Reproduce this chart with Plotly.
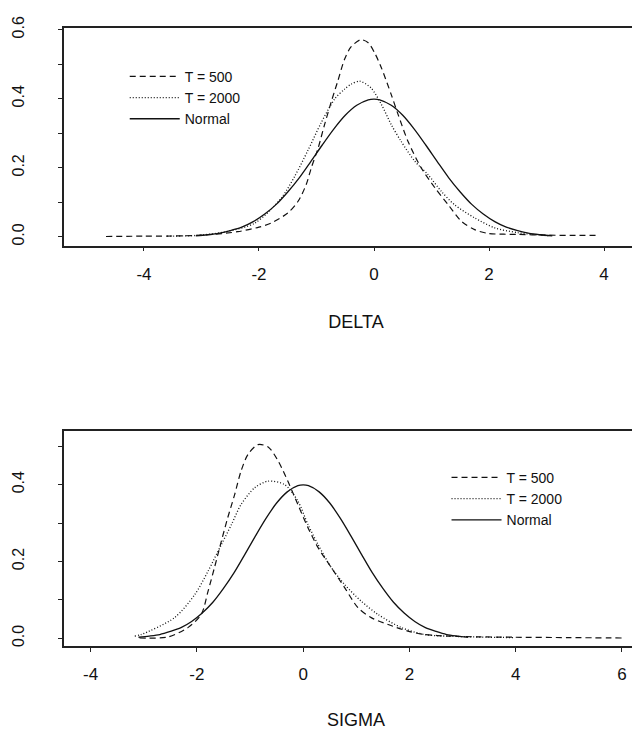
import plotly.graph_objects as go

# ---------------- DATA ----------------
# Normal density curve (same in both panels)
normal_x = [-3.1, -2.9, -2.7, -2.5, -2.3, -2.1, -1.9, -1.7, -1.5, -1.3, -1.1, -0.9, -0.7, -0.5, -0.3, -0.1,
            0.0, 0.1, 0.3, 0.5, 0.7, 0.9, 1.1, 1.3, 1.5, 1.7, 1.9, 2.1, 2.3, 2.5, 2.7, 2.9, 3.1]
normal_y = [0.003, 0.006, 0.010, 0.018, 0.028, 0.044, 0.066, 0.094, 0.130, 0.171, 0.218, 0.266, 0.312, 0.352, 0.381, 0.397,
            0.399, 0.397, 0.381, 0.352, 0.312, 0.266, 0.218, 0.171, 0.130, 0.094, 0.066, 0.044, 0.028, 0.018, 0.010, 0.006, 0.003]

# DELTA panel
delta_t500_x = [-4.66, -4.0, -3.3, -2.8, -2.37, -2.0, -1.79, -1.5, -1.32, -1.18, -1.09, -0.97, -0.86, -0.74, -0.63, -0.51,
                -0.40, -0.23, -0.10, 0.02, 0.13, 0.30, 0.42, 0.59, 0.82, 1.06, 1.29, 1.52, 1.75, 1.98, 2.5, 3.0, 3.5, 3.86]
delta_t500_y = [0.001, 0.002, 0.003, 0.007, 0.015, 0.028, 0.040, 0.069, 0.103, 0.151, 0.200, 0.258, 0.325, 0.393, 0.451, 0.515,
                0.550, 0.571, 0.562, 0.530, 0.489, 0.412, 0.354, 0.277, 0.200, 0.142, 0.093, 0.045, 0.021, 0.010, 0.007, 0.005, 0.004, 0.004]

delta_t2000_x = [-3.6, -3.1, -2.6, -2.07, -1.61, -1.38, -1.15, -0.92, -0.68, -0.51, -0.40, -0.25, -0.05, 0.13, 0.30, 0.47,
                 0.71, 0.94, 1.17, 1.40, 1.75, 2.10, 2.5, 3.03]
delta_t2000_y = [0.002, 0.004, 0.014, 0.040, 0.113, 0.175, 0.250, 0.330, 0.400, 0.428, 0.442, 0.451, 0.431, 0.383, 0.325, 0.277,
                 0.219, 0.180, 0.132, 0.093, 0.055, 0.026, 0.012, 0.003]

# SIGMA panel
sigma_t500_x = [-3.08, -2.54, -2.17, -1.92, -1.79, -1.67, -1.54, -1.42, -1.29, -1.17, -1.04, -0.85, -0.66, -0.47, -0.29,
                -0.10, 0.09, 0.28, 0.53, 0.78, 1.03, 1.28, 1.60, 1.97, 2.29, 2.73, 3.3, 4.0, 5.0, 6.05]
sigma_t500_y = [0.001, 0.004, 0.028, 0.062, 0.123, 0.184, 0.253, 0.314, 0.374, 0.435, 0.478, 0.504, 0.498, 0.461, 0.409,
                0.348, 0.288, 0.236, 0.184, 0.132, 0.080, 0.054, 0.036, 0.019, 0.010, 0.006, 0.004, 0.003, 0.002, 0.001]

sigma_t2000_x = [-3.17, -3.05, -2.42, -2.04, -1.79, -1.54, -1.35, -1.17, -0.91, -0.66, -0.35, -0.10, 0.09, 0.28, 0.53,
                 0.78, 1.09, 1.41, 1.85, 2.29, 2.9, 3.5, 3.99]
sigma_t2000_y = [0.006, 0.010, 0.054, 0.114, 0.175, 0.244, 0.296, 0.348, 0.392, 0.409, 0.400, 0.357, 0.296, 0.244, 0.184,
                 0.140, 0.097, 0.062, 0.028, 0.010, 0.005, 0.003, 0.002]

series_names = ["T = 500", "T = 2000", "Normal"]
delta_ticks = [-4, -2, 0, 2, 4]
delta_ticklabels = ["-4", "-2", "0", "2", "4"]
sigma_ticks = [-4, -2, 0, 2, 4, 6]
sigma_ticklabels = ["-4", "-2", "0", "2", "4", "6"]
delta_yticks = [0.0, 0.1, 0.2, 0.3, 0.4, 0.5, 0.6]
delta_ylabels = ["0.0", "", "0.2", "", "0.4", "", "0.6"]
sigma_yticks = [0.0, 0.1, 0.2, 0.3, 0.4, 0.5]
sigma_ylabels = ["0.0", "", "0.2", "", "0.4", ""]

# ---------------- FIGURE ----------------
INK = "#111111"
FONT = "Liberation Sans, Arial, sans-serif"
styles = [dict(dash="6px,4px", width=1.2), dict(dash="1px,2px", width=1.3), dict(dash="solid", width=1.3)]

fig = go.Figure()
panels = [
    ("x", "y", "legend", [(delta_t500_x, delta_t500_y), (delta_t2000_x, delta_t2000_y), (normal_x, normal_y)]),
    ("x2", "y2", "legend2", [(sigma_t500_x, sigma_t500_y), (sigma_t2000_x, sigma_t2000_y), (normal_x, normal_y)]),
]
for xa, ya, lg, curves in panels:
    for name, (xs, ys), st in zip(series_names, curves, styles):
        fig.add_trace(go.Scatter(
            x=xs, y=ys, mode="lines", name=name, xaxis=xa, yaxis=ya, legend=lg,
            line=dict(color=INK, width=st["width"], dash=st["dash"], shape="spline", smoothing=0.8),
            hoverinfo="skip",
        ))

axis_common = dict(showline=True, linecolor="#222222", linewidth=1.6, ticks="outside", ticklen=4,
                   tickwidth=1, tickcolor="#222222", showgrid=False, zeroline=False)
xfont = dict(family=FONT, size=17, color=INK)
yfont = dict(family=FONT, size=16, color=INK)
tfont = dict(family=FONT, size=18, color=INK)

fig.update_layout(
    width=640, height=732,
    margin=dict(l=56, r=0, t=20, b=94),
    paper_bgcolor="white", plot_bgcolor="white",
    font=dict(family=FONT, color=INK),
    xaxis=dict(domain=[0, 1], anchor="y", range=[-5.391, 4.765], tickvals=delta_ticks, ticktext=delta_ticklabels,
               mirror=True, ticklabelstandoff=8, tickfont=xfont,
               title=dict(text="DELTA", font=tfont, standoff=33), **axis_common),
    yaxis=dict(domain=[0.648, 1.0], anchor="x", range=[-0.0252, 0.6049], tickvals=delta_yticks,
               ticktext=delta_ylabels, tickangle=-90, ticklabelstandoff=28, tickfont=yfont, **axis_common),
    xaxis2=dict(domain=[0, 1], anchor="y2", range=[-4.502, 6.49], tickvals=sigma_ticks, ticktext=sigma_ticklabels,
                mirror=True, ticklabelstandoff=8, tickfont=xfont,
                title=dict(text="SIGMA", font=tfont, standoff=30), **axis_common),
    yaxis2=dict(domain=[0.0, 0.3482], anchor="x2", range=[-0.0198, 0.5398], tickvals=sigma_yticks,
                ticktext=sigma_ylabels, tickangle=-90, ticklabelstandoff=28, tickfont=yfont, **axis_common),
    legend=dict(x=0.104, y=0.947, xanchor="left", yanchor="top", bgcolor="rgba(0,0,0,0)",
                font=dict(family=FONT, size=14, color=INK), itemwidth=50),
    legend2=dict(x=0.655, y=0.298, xanchor="left", yanchor="top", bgcolor="rgba(0,0,0,0)",
                 font=dict(family=FONT, size=14, color=INK), itemwidth=50),
    showlegend=True,
)

fig.write_html("out.html")
